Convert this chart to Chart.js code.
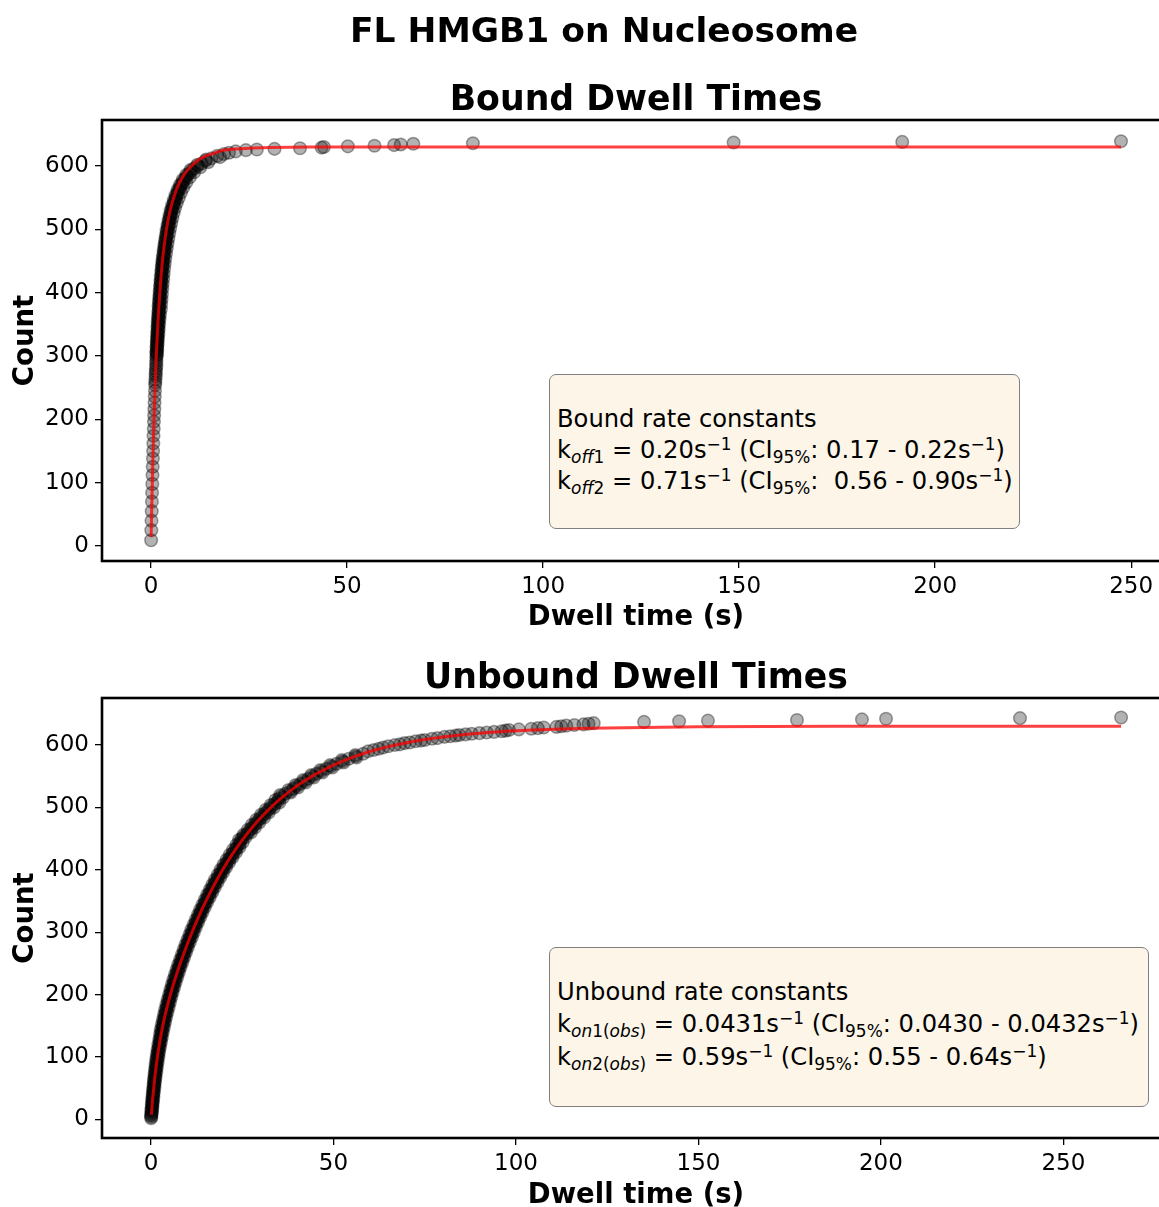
<!DOCTYPE html>
<html>
<head>
<meta charset="utf-8">
<script src="https://cdn.jsdelivr.net/npm/chart.js@4/dist/chart.umd.min.js"></script>
<style>
html,body{margin:0;padding:0;width:1159px;height:1207px;overflow:hidden;background:#fff;}
canvas{position:absolute;left:0;}
#c1{top:0;}
#c2{top:640px;}
.box{position:absolute;box-sizing:border-box;border:1.3px solid #808080;border-radius:7px;background:rgb(252,245,232);font-family:'DejaVu Sans';font-size:24.2px;color:#000;}
.ln{position:absolute;left:7px;white-space:pre;line-height:24px;height:24px;}
.ln sub{font-size:0.7em;vertical-align:-0.28em;line-height:0;}
.ln sup{font-size:0.7em;vertical-align:0.5em;line-height:0;}
</style>
</head>
<body>
<canvas id="c1" width="1170" height="640" style="width:1170px;height:640px"></canvas>
<canvas id="c2" width="1170" height="580" style="width:1170px;height:580px"></canvas>

<div class="box" style="left:549px;top:374px;width:471px;height:155px;">
  <div class="ln" style="top:32px;">Bound rate constants</div>
  <div class="ln" style="top:63px;">k<sub><i>off</i>1</sub> = 0.20s<sup>−1</sup> (CI<sub>95%</sub>: 0.17 - 0.22s<sup>−1</sup>)</div>
  <div class="ln" style="top:94px;">k<sub><i>off</i>2</sub> = 0.71s<sup>−1</sup> (CI<sub>95%</sub>:  0.56 - 0.90s<sup>−1</sup>)</div>
</div>
<div class="box" style="left:549px;top:947px;width:600px;height:160px;">
  <div class="ln" style="top:32px;">Unbound rate constants</div>
  <div class="ln" style="top:64px;">k<sub><i>on</i>1(<i>obs</i>)</sub> = 0.0431s<sup>−1</sup> (CI<sub>95%</sub>: 0.0430 - 0.0432s<sup>−1</sup>)</div>
  <div class="ln" style="top:97px;">k<sub><i>on</i>2(<i>obs</i>)</sub> = 0.59s<sup>−1</sup> (CI<sub>95%</sub>: 0.55 - 0.64s<sup>−1</sup>)</div>
</div>

<script>
// ---------------- data ----------------
const suptitle = 'FL HMGB1 on Nucleosome';
const boundTitle = 'Bound Dwell Times';
const unboundTitle = 'Unbound Dwell Times';
const xAxisLabel = 'Dwell time (s)';
const yAxisLabel = 'Count';
const xTickValues = [0, 50, 100, 150, 200, 250];
const yTickValues = [0, 100, 200, 300, 400, 500, 600];

// Bound: cumulative count vs dwell time (s)
const boundTime = [
  0.03,0.08,0.13,0.18,0.23,0.28,0.33,0.38,0.43,0.49,0.54,0.59,0.64,0.70,0.75,0.80,0.85,0.90,0.96,1.01,1.06,1.12,1.17,1.23,1.28,1.34,
  1.40,1.43,1.46,1.50,1.53,1.56,1.59,1.62,1.66,1.69,
  1.73,1.76,1.80,1.83,1.87,1.91,1.95,1.99,2.03,2.07,
  2.11,2.16,2.20,2.25,2.29,2.34,2.39,2.44,2.49,2.55,
  2.60,2.66,2.71,2.77,2.83,2.89,2.96,3.02,3.09,3.18,
  3.28,3.36,3.45,3.53,3.62,3.71,3.82,3.92,4.03,4.13,
  4.25,4.37,4.50,4.63,4.76,4.90,5.05,5.21,5.38,5.58,
  5.79,6.00,6.23,6.44,6.70,6.98,7.26,7.56,7.90,8.30,
  8.70,9.2,9.75,10.3,11.0,11.9,12.9,13.9,15.4,16.9,
  18.6,19.9,21.6,24.2,27.0,
  31.5,38.0,43.5,44.1,50.2,57.0,62.0,63.7,66.9,82.1,148.6,191.6,247.4,
  // second pass through the dense band
  1.10,1.22,1.26,1.38,1.40,
  1.55,1.36,1.62,1.42,1.70,1.47,1.78,1.52,1.88,1.57,
  1.98,1.63,2.08,1.70,2.18,1.78,2.30,1.86,2.52,1.94,
  2.60,2.02,2.70,2.10,2.80,2.20,2.90,2.30,3.00,2.40,
  3.12,2.50,3.24,2.62,3.36,2.74,3.50,2.86,3.64,3.02,
  3.84,3.20,4.02,3.36,4.20,3.55,4.42,3.75,4.65,3.95,
  4.90,4.20,5.15,4.45,5.45,4.72,5.80,5.02,6.15,5.40,
  6.60,5.80,7.10,6.25,7.65,6.75,8.25,7.35,9.00,8.05,
  9.90,9.00,11.00,10.10,12.60,11.80,14.60,14.00,17.60
];
const boundCount = [
  9,25,40,55,70,84,98,112,125,138,150,162,174,185,196,206,216,226,236,245,254,263,272,280,288,296,
  300,304,308,312,316,320,324,328,332,336,
  340,344,348,352,356,360,364,368,372,376,
  380,384,388,392,396,400,404,408,412,416,
  420,424,428,432,436,440,444,448,452,456,
  460,464,468,472,476,480,484,488,492,496,
  500,504,508,512,516,520,524,528,532,536,
  540,544,548,552,556,560,564,568,572,576,
  580,584,588,592,596,600,604,608,612,616,
  619,621,623,625,626,
  627,628,629,630,631,632,633,634,635,636,637,638,639,
  258,268,276,284,292,
  302,306,310,314,318,322,326,330,334,338,
  342,346,350,354,358,362,366,370,374,378,
  382,386,390,394,398,402,406,410,414,418,
  422,426,430,434,438,442,446,450,454,458,
  462,466,470,474,478,482,486,490,494,498,
  502,506,510,514,518,522,526,530,534,538,
  542,546,550,554,558,562,566,570,574,578,
  582,586,590,594,598,602,606,610,614
];
const boundFitTime = [0.03,0.1,0.2,0.3,0.4,0.5,0.6,0.8,1.0,1.2,1.4,1.6,1.8,2.0,2.5,3,3.5,4,4.5,5,6,7,8,9,10,12,14,16,18,20,25,30,40,60,100,150,200,247.4];
const boundFitCount = [14,36,64,91,117,142,165,207,244,277,307,333,357,378,421,455,481,502,519,533,554,570,582,591,598,609,616,620,624,626,628,629,630,630,630,630,630,630];

// Unbound: cumulative count vs dwell time (s)
const unboundTime = [
  0.03,0.08,0.14,0.20,0.25,0.31,0.37,0.42,0.48,0.54,
  0.61,0.68,0.75,0.82,0.89,0.95,1.03,1.11,1.19,1.27,
  1.36,1.44,1.52,1.62,1.72,1.82,1.91,2.01,2.13,2.25,
  2.37,2.49,2.61,2.72,2.84,2.96,3.10,3.25,3.39,3.54,
  3.69,3.84,3.99,4.16,4.33,4.51,4.68,4.86,5.03,5.23,
  5.43,5.62,5.82,6.02,6.23,6.44,6.66,6.87,7.09,7.32,
  7.55,7.78,8.01,8.26,8.51,8.76,9.01,9.26,9.52,9.77,
  10.02,10.30,10.57,10.85,11.13,11.40,11.68,11.96,12.26,12.56,
  12.86,13.17,13.47,13.77,14.08,14.41,14.74,15.07,15.40,15.74,
  16.07,16.43,16.79,17.15,17.51,17.87,18.25,18.65,19.04,19.43,
  19.82,20.24,20.67,21.10,21.53,21.96,22.42,22.89,23.36,23.82,
  24.32,24.5,24.9,25.5,26.38,26.93,27.49,28.05,28.65,29.25,
  29.85,30.50,31.17,31.84,32.51,33.21,33.98,34.75,35.0,35.7,
  36.8,38.11,39.00,39.89,40.95,42.03,43.11,44.19,45.34,46.68,
  48.02,49.36,50.88,52.54,54.21,56.08,58.14,
  59.5,61.0,62.4,63.6,65.0,66.8,68.2,69.5,70.9,72.5,
  74.0,75.0,77.0,78.5,80.4,82.0,83.5,84.5,86.2,87.9,
  90.0,92.0,94.0,96.1,97.2,98.1,100.8,104.2,106.0,107.6,
  111.1,112.4,113.8,116.0,118.5,119.9,121.3,
  135.1,144.7,152.6,177.0,194.8,201.4,238.1,265.8,
  // second pass through the dense band
  0.10,0.05,0.30,0.10,0.42,0.22,0.55,0.32,0.68,0.45,
  0.82,0.55,0.98,0.70,1.12,0.80,1.30,0.95,1.48,1.10,
  1.65,1.25,1.85,1.40,2.05,1.60,2.25,1.80,2.50,2.00,
  2.75,2.25,3.00,2.45,3.25,2.65,3.55,2.95,3.85,3.25,
  4.15,3.55,4.50,3.85,4.85,4.20,5.20,4.55,5.55,4.95,
  5.95,5.30,6.35,5.70,6.75,6.10,7.20,6.55,7.65,7.00,
  8.10,7.45,8.60,7.95,9.10,8.45,9.60,8.95,10.10,9.45,
  10.65,10.00,11.20,10.55,11.75,11.05,12.30,11.65,12.90,12.25,
  13.50,12.85,14.10,13.45,14.75,14.10,15.40,14.75,16.10,15.40,
  16.80,16.10,17.50,16.80,18.25,17.50,19.00,18.30,19.80,19.05,
  20.60,19.85,21.45,20.70,22.35,21.55,23.30,22.45,24.25,23.40,
  25.10,24.10,25.90,25.30,27.40,26.50,28.50,27.60,29.70,28.80,
  31.00,30.10,32.30,31.40,33.70,32.80,35.20,34.10,36.20,35.40,
  38.30,37.70,40.30,39.60,42.40,41.70,44.60,43.90,47.00,46.40,
  49.70,49.10,52.80,52.30,56.30,56.00
];
const unboundCount = [
  2,6,10,14,18,22,26,30,34,38,
  42,46,50,54,58,62,66,70,74,78,
  82,86,90,94,98,102,106,110,114,118,
  122,126,130,134,138,142,146,150,154,158,
  162,166,170,174,178,182,186,190,194,198,
  202,206,210,214,218,222,226,230,234,238,
  242,246,250,254,258,262,266,270,274,278,
  282,286,290,294,298,302,306,310,314,318,
  322,326,330,334,338,342,346,350,354,358,
  362,366,370,374,378,382,386,390,394,398,
  402,406,410,414,418,422,426,430,434,438,
  442,446,450,454,458,462,466,470,474,478,
  482,486,490,494,498,502,506,510,514,518,
  522,526,530,534,538,542,546,550,554,558,
  562,566,570,574,578,582,586,
  590,592,594,596,598,600,601,603,604,606,
  607,608,610,611,613,614,615,616,617,618,
  619,620,621,622,623,624,625,626,627,628,
  629,630,631,632,633,634,635,
  637,638,639,640,641,642,643,644,
  4,8,12,16,20,24,28,32,36,40,
  44,48,52,56,60,64,68,72,76,80,
  84,88,92,96,100,104,108,112,116,120,
  124,128,132,136,140,144,148,152,156,160,
  164,168,172,176,180,184,188,192,196,200,
  204,208,212,216,220,224,228,232,236,240,
  244,248,252,256,260,264,268,272,276,280,
  284,288,292,296,300,304,308,312,316,320,
  324,328,332,336,340,344,348,352,356,360,
  364,368,372,376,380,384,388,392,396,400,
  404,408,412,416,420,424,428,432,436,440,
  444,448,452,456,460,464,468,472,476,480,
  484,488,492,496,500,504,508,512,516,520,
  524,528,532,536,540,544,548,552,556,560,
  564,568,572,576,580,584
];
const unboundFitTime = [0.1,0.5,1,1.5,2,3,4,5,6,7,8,10,12,14,16,18,20,22,24,26,28,30,33,36,40,45,50,55,60,65,70,75,80,90,100,110,120,150,200,265.8];
const unboundFitCount = [8,35.5,64.7,89,109.6,143.3,170.4,193.3,213.7,232.4,249.8,281.7,310.6,337,361.2,383.4,403.8,422.4,439.5,455.3,469.7,483,500.9,516.5,534.5,553,567.9,579.9,589.6,597.4,603.7,608.8,613,618.9,622.8,625.3,627,629.2,629.9,630];

// ---------------- drawing ----------------
const FONT = "'DejaVu Sans', 'Liberation Sans', sans-serif";
const toPts = (xs, ys) => xs.map((x, i) => ({x: x, y: ys[i]}));

const framePlugin = {
  id: 'frame',
  afterDatasetsDraw(chart) {
    const {ctx, chartArea: a} = chart;
    ctx.save();
    ctx.lineWidth = 2.6;
    ctx.strokeStyle = '#000';
    ctx.strokeRect(a.left, a.top, a.right - a.left, a.bottom - a.top);
    ctx.restore();
  },
  afterDraw(chart, args, opts) {
    const ctx = chart.ctx;
    const a = chart.chartArea;
    ctx.save();
    ctx.fillStyle = '#000';
    ctx.textAlign = 'center';
    ctx.textBaseline = 'alphabetic';
    (opts.titles || []).forEach(t => {
      ctx.font = 'bold ' + t.size + 'px ' + FONT;
      const x = (t.x === 'center') ? (a.left + a.right) / 2 : t.x;
      ctx.fillText(t.text, x, t.y);
    });
    ctx.restore();
  }
};

function makeChart(id, cfg) {
  const ctx = document.getElementById(id);
  return new Chart(ctx, {
    type: 'scatter',
    data: {
      datasets: [
        {
          type: 'line',
          data: toPts(cfg.fitX, cfg.fitY),
          borderColor: 'rgba(255,0,0,0.75)',
          borderWidth: 3,
          pointRadius: 0,
          fill: false,
          cubicInterpolationMode: 'monotone',
          order: 1
        },
        {
          type: 'scatter',
          data: toPts(cfg.x, cfg.y),
          pointRadius: 6.3,
          pointBackgroundColor: 'rgba(0,0,0,0.3)',
          pointBorderColor: 'rgba(0,0,0,0.36)',
          pointBorderWidth: 1.5,
          order: 2
        }
      ]
    },
    options: {
      responsive: false,
      animation: false,
      devicePixelRatio: 1,
      events: [],
      layout: {autoPadding: false, padding: {top: cfg.padTop, left: 0, right: 0, bottom: 0}},
      plugins: {
        legend: {display: false},
        tooltip: {enabled: false},
        frame: {titles: cfg.titles}
      },
      scales: {
        x: {
          type: 'linear',
          position: 'bottom',
          min: cfg.xr[0], max: cfg.xr[1],
          afterBuildTicks: s => { s.ticks = xTickValues.map(v => ({value: v})); },
          afterFit: s => { s.height = cfg.xAxisH; },
          grid: {drawOnChartArea: false, drawTicks: true, tickLength: 7, color: '#000', lineWidth: 1.3},
          border: {display: false},
          ticks: {font: {family: FONT, size: 23}, color: '#000', padding: 5, maxRotation: 0, autoSkip: false},
          title: {display: true, text: xAxisLabel, color: '#000',
                  font: {family: FONT, size: 27.5, weight: 'bold'}, padding: {top: 0, bottom: cfg.xTitlePad}}
        },
        y: {
          type: 'linear',
          position: 'left',
          min: cfg.yr[0], max: cfg.yr[1],
          afterBuildTicks: s => { s.ticks = yTickValues.map(v => ({value: v})); },
          afterFit: s => { s.width = 102; },
          grid: {drawOnChartArea: false, drawTicks: true, tickLength: 7, color: '#000', lineWidth: 1.3},
          border: {display: false},
          ticks: {font: {family: FONT, size: 23}, color: '#000', padding: 6, autoSkip: false},
          title: {display: true, text: yAxisLabel, color: '#000',
                  font: {family: FONT, size: 27.5, weight: 'bold'}, padding: {top: 9, bottom: 0}}
        }
      }
    },
    plugins: [framePlugin]
  });
}

makeChart('c1', {
  x: boundTime, y: boundCount, fitX: boundFitTime, fitY: boundFitCount,
  xr: [-12.5, 259.9], yr: [-23.7, 672.6],
  padTop: 120, xAxisH: 79, xTitlePad: 6,
  titles: [
    {text: suptitle, x: 604, y: 42, size: 34.5},
    {text: boundTitle, x: 'center', y: 110, size: 34.7}
  ]
});

makeChart('c2', {
  x: unboundTime, y: unboundCount, fitX: unboundFitTime, fitY: unboundFitCount,
  xr: [-13.42, 279.2], yr: [-29.6, 675.3],
  padTop: 58, xAxisH: 82, xTitlePad: 8,
  titles: [
    {text: unboundTitle, x: 'center', y: 48, size: 34.7}
  ]
});
</script>
</body>
</html>
